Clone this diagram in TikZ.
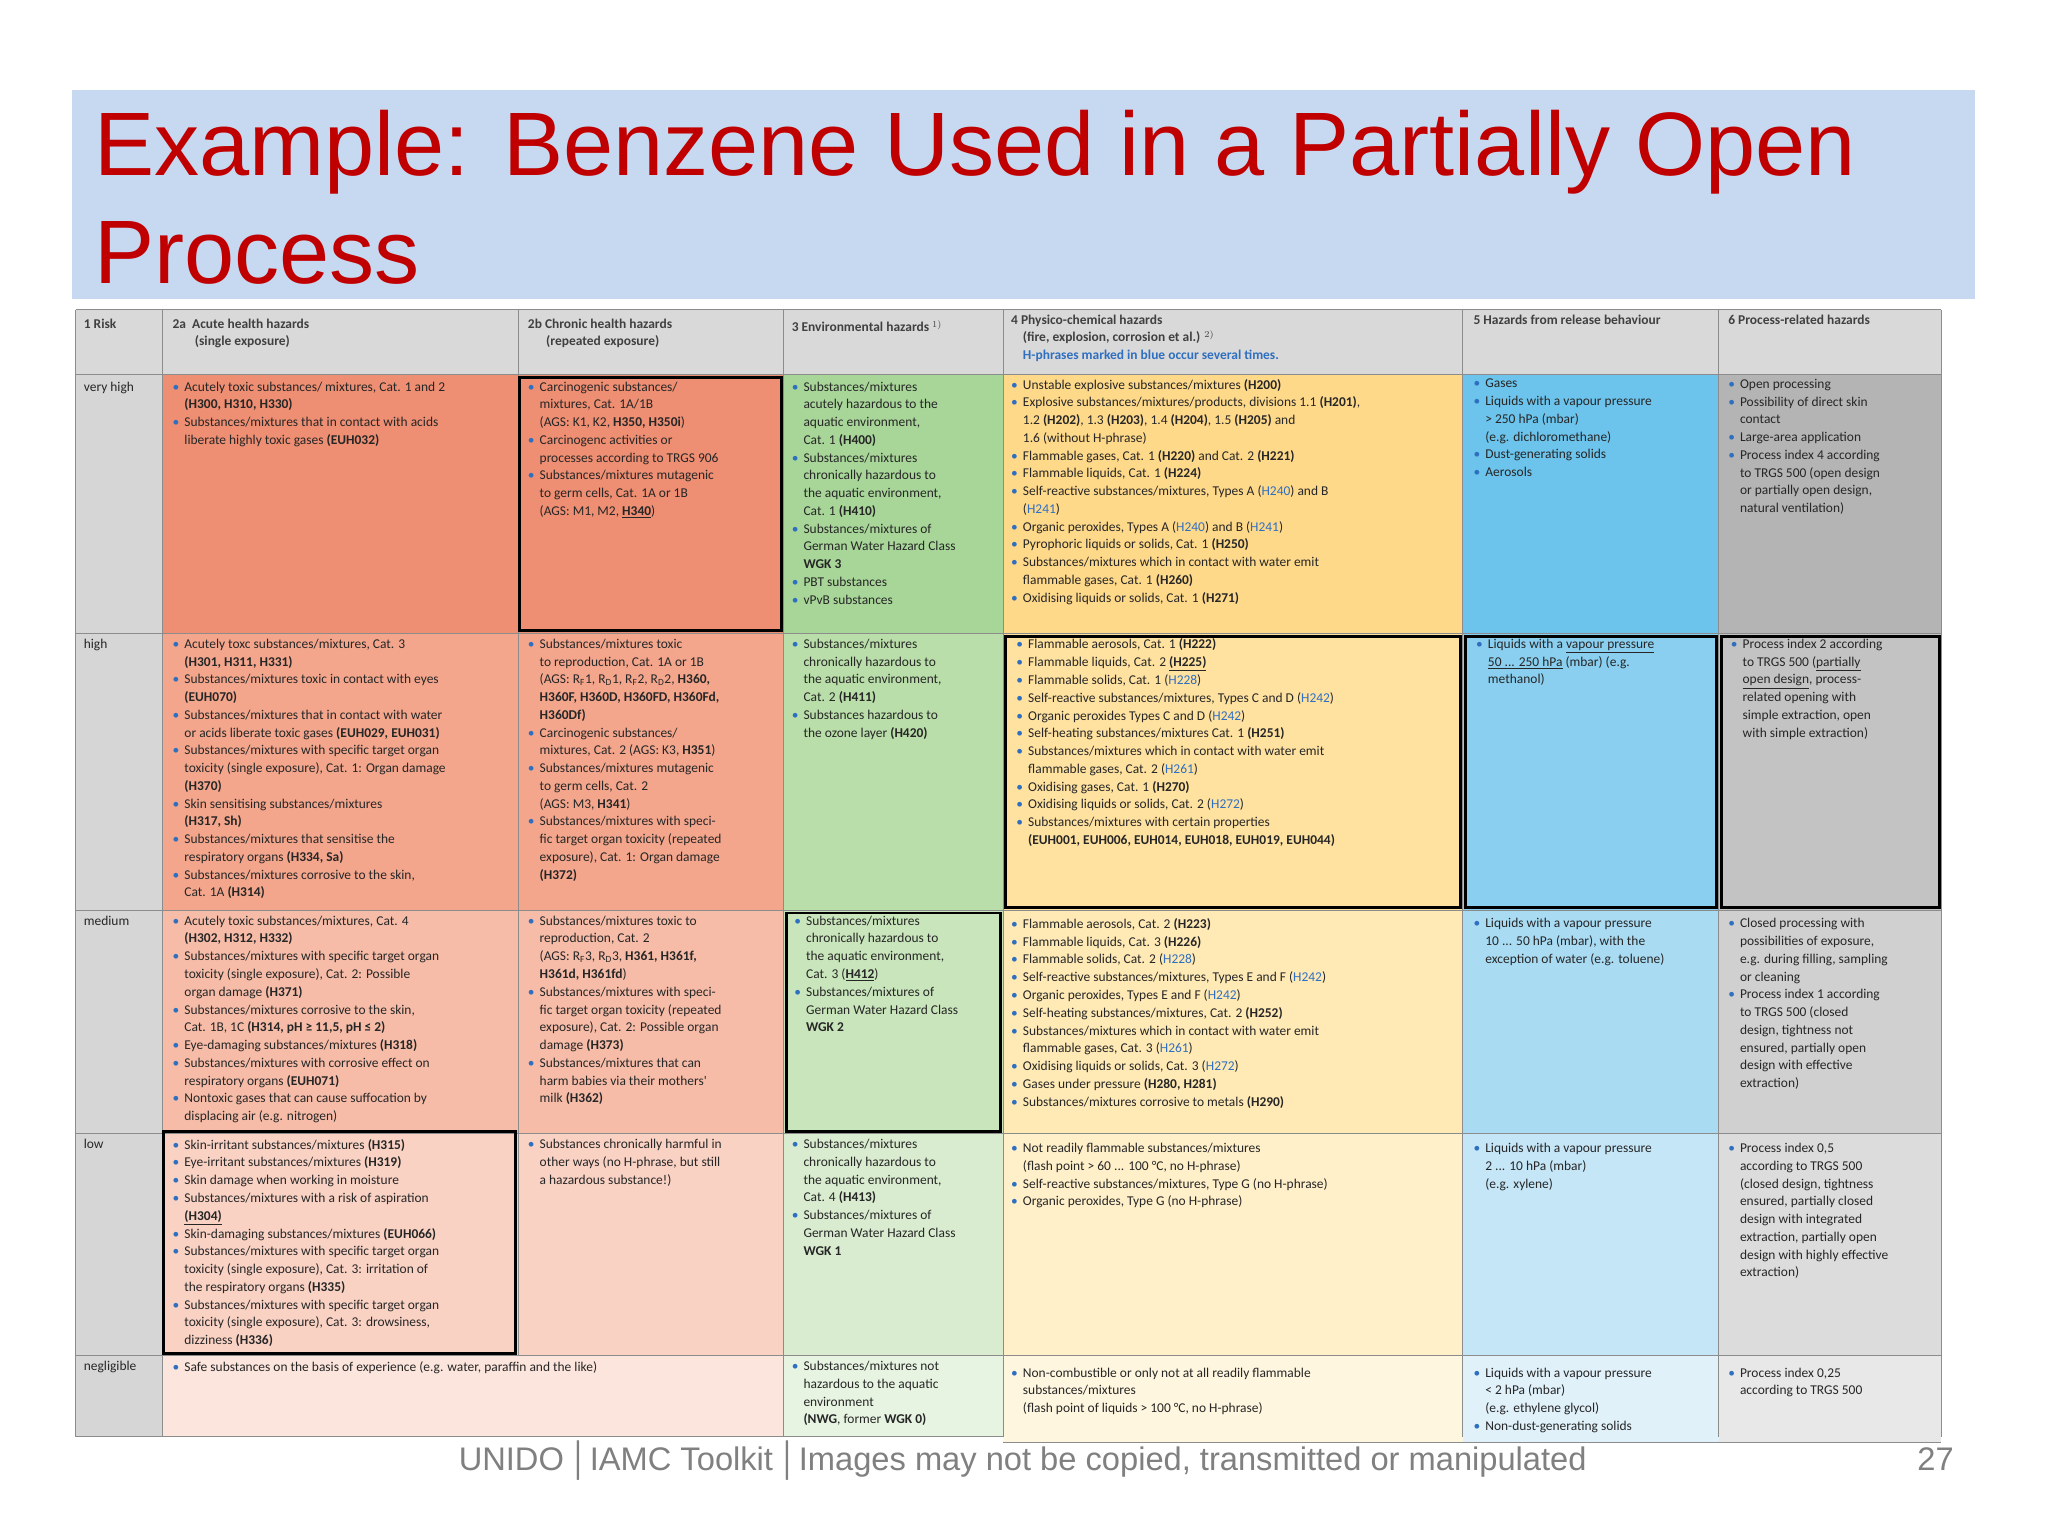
\documentclass[tikz,border=0pt]{standalone}
\usepackage{fontspec}
\setmainfont{Liberation Sans}
\newfontfamily\tf{Carlito}
\definecolor{band}{HTML}{C6D9F0}
\definecolor{ttl}{HTML}{C00000}
\definecolor{bblue}{HTML}{2F6FC0}
\definecolor{hd}{HTML}{D9D9D9}
\definecolor{rl}{HTML}{D6D6D6}
\definecolor{aA}{HTML}{EE8E72}\definecolor{aB}{HTML}{F3A68C}\definecolor{aC}{HTML}{F6BCA8}\definecolor{aD}{HTML}{F9D2C4}\definecolor{aE}{HTML}{FCE5DC}
\definecolor{gA}{HTML}{A8D699}\definecolor{gB}{HTML}{B9DEA9}\definecolor{gC}{HTML}{C9E5BB}\definecolor{gD}{HTML}{D9ECCF}\definecolor{gE}{HTML}{E8F4E2}
\definecolor{yA}{HTML}{FFD98A}\definecolor{yB}{HTML}{FFE2A0}\definecolor{yC}{HTML}{FFEAB6}\definecolor{yD}{HTML}{FFF0CA}\definecolor{yE}{HTML}{FFF6DF}
\definecolor{bA}{HTML}{6CC3EB}\definecolor{bB}{HTML}{8ACFEF}\definecolor{bC}{HTML}{A9DBF3}\definecolor{bD}{HTML}{C5E6F7}\definecolor{bE}{HTML}{E0F1FA}
\definecolor{kA}{HTML}{B4B4B4}\definecolor{kB}{HTML}{C3C3C3}\definecolor{kC}{HTML}{D0D0D0}\definecolor{kD}{HTML}{DCDCDC}\definecolor{kE}{HTML}{E8E8E8}
\newcommand\bi{\makebox[9pt][l]{\textcolor{bblue}{\textbullet}}}
\newcommand\ci{\hspace*{9pt}}
\newcommand\h[1]{\textbf{#1}}
\newcommand\hb[1]{\textcolor{bblue}{#1}}
\newcommand\cellfill[5]{\fill[#5] (#1,#2) rectangle (#3,#4);}
\tikzset{ct/.style={anchor=north west,inner sep=0pt,align=left,font=\tf\fontsize{10.3}{13.6}\selectfont,text=black!85},
 hdt/.style={ct,font=\tf\bfseries\fontsize{10.3}{13.4}\selectfont,text=black!75},
 thick box/.style={draw=black,line width=2.2pt}}
\begin{document}
\begin{tikzpicture}[x=1pt,y=-1pt]
\useasboundingbox (0,0) rectangle (1568,1176);
\fill[white] (0,0) rectangle (1568,1176);
\fill[band] (55,69) rectangle (1512,229);
\node[anchor=base west,inner sep=0pt,text=ttl,font=\fontsize{69}{83}\selectfont] (t1) at (72,134) {Example: Benzene Used in a Partially Open};
\node[anchor=base west,inner sep=0pt,text=ttl,font=\fontsize{69}{83}\selectfont] (t2) at (72,217) {Process};
% header + labels
\cellfill{58}{237}{1486}{287}{hd}
\cellfill{58}{287}{124}{1100}{rl}
% very high
\cellfill{124}{287}{600}{485}{aA}\cellfill{600}{287}{768}{485}{gA}\cellfill{768}{287}{1120}{485}{yA}\cellfill{1120}{287}{1316}{485}{bA}\cellfill{1316}{287}{1486}{485}{kA}
\cellfill{124}{485}{600}{697}{aB}\cellfill{600}{485}{768}{697}{gB}\cellfill{768}{485}{1120}{697}{yB}\cellfill{1120}{485}{1316}{697}{bB}\cellfill{1316}{485}{1486}{697}{kB}
\cellfill{124}{697}{600}{868}{aC}\cellfill{600}{697}{768}{868}{gC}\cellfill{768}{697}{1120}{868}{yC}\cellfill{1120}{697}{1316}{868}{bC}\cellfill{1316}{697}{1486}{868}{kC}
\cellfill{124}{868}{600}{1038}{aD}\cellfill{600}{868}{768}{1038}{gD}\cellfill{768}{868}{1120}{1038}{yD}\cellfill{1120}{868}{1316}{1038}{bD}\cellfill{1316}{868}{1486}{1038}{kD}
\cellfill{124}{1038}{600}{1100}{aE}\cellfill{600}{1038}{768}{1100}{gE}\cellfill{768}{1038}{1120}{1104}{yE}\cellfill{1120}{1038}{1316}{1104}{bE}\cellfill{1316}{1038}{1486}{1104}{kE}
% grid
\begin{scope}[draw=black!45,line width=0.6pt]
\foreach \x in {58,124,600,768,1120,1316,1486} \draw (\x,237) -- (\x,1100);
\draw (397,237) -- (397,1038);
\foreach \y in {237,287,485,697,868,1038} \draw (58,\y) -- (1486,\y);
\draw (58,1100) -- (768,1100);
\draw (768,1104) -- (1486,1104);
\end{scope}
\draw[thick box] (398,289) rectangle (598,483);
\draw[thick box] (770,487) rectangle (1118,695);
\draw[thick box] (1122,487) rectangle (1314,695);
\draw[thick box] (1318,487) rectangle (1485,695);
\draw[thick box] (602,699) rectangle (766,866);
\draw[thick box] (125,866) rectangle (395,1036);
% headers
\node[hdt] (h1) at (64,244) {1 Risk};
\node[hdt] (h2) at (132,244) {2a\ \ Acute health hazards\\\hspace*{17pt}(single exposure)};
\node[hdt] (h3) at (404,244) {2b Chronic health hazards\\\hspace*{14pt}(repeated exposure)};
\node[hdt] (h4) at (606,245) {3 Environmental hazards $^{1)}$};
\node[hdt] (h5) at (774,241) {4 Physico-chemical hazards\\\hspace*{9pt}(fire, explosion, corrosion et al.) $^{2)}$\\\hspace*{9pt}\textcolor{bblue}{H-phrases marked in blue occur several times.}};
\node[hdt] (h6) at (1128,241) {5 Hazards from release behaviour};
\node[hdt] (h7) at (1323,241) {6 Process-related hazards};
% row labels
\node[ct] (r1) at (64,292) {very high};
\node[ct] (r2) at (64,489) {high};
\node[ct] (r3) at (64,701) {medium};
\node[ct] (r4) at (64,872) {low};
\node[ct] (r5) at (64,1042) {negligible};
% very high
\node[ct] (c11) at (132,292) {\bi Acutely toxic substances/ mixtures, Cat. 1 and 2\\\ci\h{(H300, H310, H330)}\\\bi Substances/mixtures that in contact with acids\\\ci liberate highly toxic gases \h{(EUH032)}};
\node[ct] (c12) at (404,292) {\bi Carcinogenic substances/\\\ci mixtures, Cat. 1A/1B\\\ci (AGS: K1, K2, \h{H350, H350i})\\\bi Carcinogenc activities or\\\ci processes according to TRGS 906\\\bi Substances/mixtures mutagenic\\\ci to germ cells, Cat. 1A or 1B\\\ci (AGS: M1, M2, \underline{\h{H340}})};
\node[ct] (c13) at (606,292) {\bi Substances/mixtures\\\ci acutely hazardous to the\\\ci aquatic environment,\\\ci Cat. 1 \h{(H400)}\\\bi Substances/mixtures\\\ci chronically hazardous to\\\ci the aquatic environment,\\\ci Cat. 1 \h{(H410)}\\\bi Substances/mixtures of\\\ci German Water Hazard Class\\\ci\h{WGK 3}\\\bi PBT substances\\\bi vPvB substances};
\node[ct] (c14) at (774,290) {\bi Unstable explosive substances/mixtures \h{(H200)}\\\bi Explosive substances/mixtures/products, divisions 1.1 \h{(H201)},\\\ci 1.2 \h{(H202)}, 1.3 \h{(H203)}, 1.4 \h{(H204)}, 1.5 \h{(H205)} and\\\ci 1.6 (without H-phrase)\\\bi Flammable gases, Cat. 1 \h{(H220)} and Cat. 2 \h{(H221)}\\\bi Flammable liquids, Cat. 1 \h{(H224)}\\\bi Self-reactive substances/mixtures, Types A (\hb{H240}) and B\\\ci (\hb{H241})\\\bi Organic peroxides, Types A (\hb{H240}) and B (\hb{H241})\\\bi Pyrophoric liquids or solids, Cat. 1 \h{(H250)}\\\bi Substances/mixtures which in contact with water emit\\\ci flammable gases, Cat. 1 \h{(H260)}\\\bi Oxidising liquids or solids, Cat. 1 \h{(H271)}};
\node[ct] (c15) at (1128,290) {\bi Gases\\\bi Liquids with a vapour pressure\\\ci > 250 hPa (mbar)\\\ci (e.g. dichloromethane)\\\bi Dust-generating solids\\\bi Aerosols};
\node[ct] (c16) at (1323,290) {\bi Open processing\\\bi Possibility of direct skin\\\ci contact\\\bi Large-area application\\\bi Process index 4 according\\\ci to TRGS 500 (open design\\\ci or partially open design,\\\ci natural ventilation)};
% high
\node[ct] (c21) at (132,489) {\bi Acutely toxc substances/mixtures, Cat. 3\\\ci\h{(H301, H311, H331)}\\\bi Substances/mixtures toxic in contact with eyes\\\ci\h{(EUH070)}\\\bi Substances/mixtures that in contact with water\\\ci or acids liberate toxic gases \h{(EUH029, EUH031)}\\\bi Substances/mixtures with specific target organ\\\ci toxicity (single exposure), Cat. 1: Organ damage\\\ci\h{(H370)}\\\bi Skin sensitising substances/mixtures\\\ci\h{(H317, Sh)}\\\bi Substances/mixtures that sensitise the\\\ci respiratory organs \h{(H334, Sa)}\\\bi Substances/mixtures corrosive to the skin,\\\ci Cat. 1A \h{(H314)}};
\node[ct] (c22) at (404,489) {\bi Substances/mixtures toxic\\\ci to reproduction, Cat. 1A or 1B\\\ci (AGS: R\textsubscript{F}1, R\textsubscript{D}1, R\textsubscript{F}2, R\textsubscript{D}2, \h{H360,}\\\ci\h{H360F, H360D, H360FD, H360Fd,}\\\ci\h{H360Df)}\\\bi Carcinogenic substances/\\\ci mixtures, Cat. 2 (AGS: K3, \h{H351})\\\bi Substances/mixtures mutagenic\\\ci to germ cells, Cat. 2\\\ci (AGS: M3, \h{H341})\\\bi Substances/mixtures with speci-\\\ci fic target organ toxicity (repeated\\\ci exposure), Cat. 1: Organ damage\\\ci\h{(H372)}};
\node[ct] (c23) at (606,489) {\bi Substances/mixtures\\\ci chronically hazardous to\\\ci the aquatic environment,\\\ci Cat. 2 \h{(H411)}\\\bi Substances hazardous to\\\ci the ozone layer \h{(H420)}};
\node[ct] (c24) at (778,489) {\bi Flammable aerosols, Cat. 1 \h{(H222)}\\\bi Flammable liquids, Cat. 2 \underline{\h{(H225)}}\\\bi Flammable solids, Cat. 1 (\hb{H228})\\\bi Self-reactive substances/mixtures, Types C and D (\hb{H242})\\\bi Organic peroxides Types C and D (\hb{H242})\\\bi Self-heating substances/mixtures Cat. 1 \h{(H251)}\\\bi Substances/mixtures which in contact with water emit\\\ci flammable gases, Cat. 2 (\hb{H261})\\\bi Oxidising gases, Cat. 1 \h{(H270)}\\\bi Oxidising liquids or solids, Cat. 2 (\hb{H272})\\\bi Substances/mixtures with certain properties\\\ci\h{(EUH001, EUH006, EUH014, EUH018, EUH019, EUH044)}};
\node[ct] (c25) at (1130,489) {\bi Liquids with a \underline{vapour pressure}\\\ci\underline{50 ... 250 hPa} (mbar) (e.g.\\\ci methanol)};
\node[ct] (c26) at (1325,489) {\bi Process index 2 according\\\ci to TRGS 500 (\underline{partially}\\\ci\underline{open design}, process-\\\ci related opening with\\\ci simple extraction, open\\\ci with simple extraction)};
% medium
\node[ct] (c31) at (132,701) {\bi Acutely toxic substances/mixtures, Cat. 4\\\ci\h{(H302, H312, H332)}\\\bi Substances/mixtures with specific target organ\\\ci toxicity (single exposure), Cat. 2: Possible\\\ci organ damage \h{(H371)}\\\bi Substances/mixtures corrosive to the skin,\\\ci Cat. 1B, 1C \h{(H314, pH ≥ 11,5, pH ≤ 2)}\\\bi Eye-damaging substances/mixtures \h{(H318)}\\\bi Substances/mixtures with corrosive effect on\\\ci respiratory organs \h{(EUH071)}\\\bi Nontoxic gases that can cause suffocation by\\\ci displacing air (e.g. nitrogen)};
\node[ct] (c32) at (404,701) {\bi Substances/mixtures toxic to\\\ci reproduction, Cat. 2\\\ci (AGS: R\textsubscript{F}3, R\textsubscript{D}3, \h{H361, H361f,}\\\ci\h{H361d, H361fd})\\\bi Substances/mixtures with speci-\\\ci fic target organ toxicity (repeated\\\ci exposure), Cat. 2: Possible organ\\\ci damage \h{(H373)}\\\bi Substances/mixtures that can\\\ci harm babies via their mothers'\\\ci milk \h{(H362)}};
\node[ct] (c33) at (608,701) {\bi Substances/mixtures\\\ci chronically hazardous to\\\ci the aquatic environment,\\\ci Cat. 3 (\underline{\h{H412}})\\\bi Substances/mixtures of\\\ci German Water Hazard Class\\\ci\h{WGK 2}};
\node[ct] (c34) at (774,703) {\bi Flammable aerosols, Cat. 2 \h{(H223)}\\\bi Flammable liquids, Cat. 3 \h{(H226)}\\\bi Flammable solids, Cat. 2 (\hb{H228})\\\bi Self-reactive substances/mixtures, Types E and F (\hb{H242})\\\bi Organic peroxides, Types E and F (\hb{H242})\\\bi Self-heating substances/mixtures, Cat. 2 \h{(H252)}\\\bi Substances/mixtures which in contact with water emit\\\ci flammable gases, Cat. 3 (\hb{H261})\\\bi Oxidising liquids or solids, Cat. 3 (\hb{H272})\\\bi Gases under pressure \h{(H280, H281)}\\\bi Substances/mixtures corrosive to metals \h{(H290)}};
\node[ct] (c35) at (1128,703) {\bi Liquids with a vapour pressure\\\ci 10 ... 50 hPa (mbar), with the\\\ci exception of water (e.g. toluene)};
\node[ct] (c36) at (1323,703) {\bi Closed processing with\\\ci possibilities of exposure,\\\ci e.g. during filling, sampling\\\ci or cleaning\\\bi Process index 1 according\\\ci to TRGS 500 (closed\\\ci design, tightness not\\\ci ensured, partially open\\\ci design with effective\\\ci extraction)};
% low
\node[ct] (c41) at (132,872) {\bi Skin-irritant substances/mixtures \h{(H315)}\\\bi Eye-irritant substances/mixtures \h{(H319)}\\\bi Skin damage when working in moisture\\\bi Substances/mixtures with a risk of aspiration\\\ci\underline{\h{(H304)}}\\\bi Skin-damaging substances/mixtures \h{(EUH066)}\\\bi Substances/mixtures with specific target organ\\\ci toxicity (single exposure), Cat. 3: irritation of\\\ci the respiratory organs \h{(H335)}\\\bi Substances/mixtures with specific target organ\\\ci toxicity (single exposure), Cat. 3: drowsiness,\\\ci dizziness \h{(H336)}};
\node[ct] (c42) at (404,872) {\bi Substances chronically harmful in\\\ci other ways (no H-phrase, but still\\\ci a hazardous substance!)};
\node[ct] (c43) at (606,872) {\bi Substances/mixtures\\\ci chronically hazardous to\\\ci the aquatic environment,\\\ci Cat. 4 \h{(H413)}\\\bi Substances/mixtures of\\\ci German Water Hazard Class\\\ci\h{WGK 1}};
\node[ct] (c44) at (774,875) {\bi Not readily flammable substances/mixtures\\\ci (flash point > 60 ... 100 °C, no H-phrase)\\\bi Self-reactive substances/mixtures, Type G (no H-phrase)\\\bi Organic peroxides, Type G (no H-phrase)};
\node[ct] (c45) at (1128,875) {\bi Liquids with a vapour pressure\\\ci 2 ... 10 hPa (mbar)\\\ci (e.g. xylene)};
\node[ct] (c46) at (1323,875) {\bi Process index 0,5\\\ci according to TRGS 500\\\ci (closed design, tightness\\\ci ensured, partially closed\\\ci design with integrated\\\ci extraction, partially open\\\ci design with highly effective\\\ci extraction)};
% negligible
\node[ct] (c51) at (132,1042) {\bi Safe substances on the basis of experience (e.g. water, paraffin and the like)};
\node[ct] (c53) at (606,1042) {\bi Substances/mixtures not\\\ci hazardous to the aquatic\\\ci environment\\\ci\h{(NWG}, former \h{WGK 0)}};
\node[ct] (c54) at (774,1047) {\bi Non-combustible or only not at all readily flammable\\\ci substances/mixtures\\\ci (flash point of liquids > 100 °C, no H-phrase)};
\node[ct] (c55) at (1128,1047) {\bi Liquids with a vapour pressure\\\ci < 2 hPa (mbar)\\\ci (e.g. ethylene glycol)\\\bi Non-dust-generating solids};
\node[ct] (c56) at (1323,1047) {\bi Process index 0,25\\\ci according to TRGS 500};
% footer
\node[anchor=base,inner sep=0pt,text=black!50,font=\fontsize{25}{30}\selectfont] (f1) at (783,1126) {UNIDO\,│IAMC Toolkit\,│Images may not be copied, transmitted or manipulated};
\node[anchor=base east,inner sep=0pt,text=black!50,font=\fontsize{25}{30}\selectfont] (f2) at (1496,1126) {27};
\end{tikzpicture}
\end{document}
